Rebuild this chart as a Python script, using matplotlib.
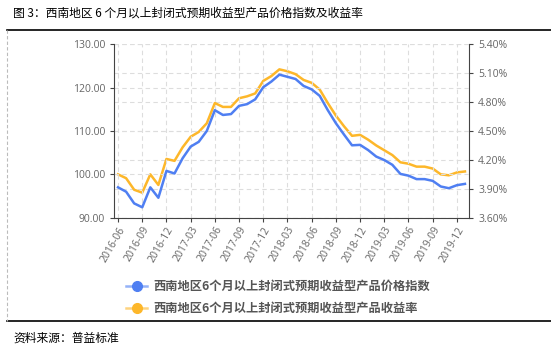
import matplotlib
matplotlib.use("Agg")
import matplotlib.pyplot as plt
from matplotlib.lines import Line2D
import numpy as np

plt.rcParams['font.family'] = ['Noto Sans CJK SC', 'DejaVu Sans']

months = ["2016-06", "2016-07", "2016-08", "2016-09", "2016-10", "2016-11", "2016-12",
          "2017-01", "2017-02", "2017-03", "2017-04", "2017-05", "2017-06", "2017-07",
          "2017-08", "2017-09", "2017-10", "2017-11", "2017-12", "2018-01", "2018-02",
          "2018-03", "2018-04", "2018-05", "2018-06", "2018-07", "2018-08", "2018-09",
          "2018-10", "2018-11", "2018-12", "2019-01", "2019-02", "2019-03", "2019-04",
          "2019-05", "2019-06", "2019-07", "2019-08", "2019-09", "2019-10", "2019-11",
          "2019-12", "2020-01"]

price_index = [97.0, 96.0, 93.3, 92.4, 97.0, 94.6, 100.8, 100.2, 103.7, 106.4, 107.5, 110.0,
               114.8, 113.7, 113.9, 115.8, 116.2, 117.3, 120.1, 121.4, 123.0, 122.5, 122.0,
               120.4, 119.6, 118.1, 114.8, 111.8, 109.2, 106.7, 106.8, 105.6, 104.1, 103.3,
               102.2, 100.1, 99.7, 98.9, 98.9, 98.5, 97.2, 96.8, 97.5, 97.8]

yield_rate = [4.05, 4.01, 3.89, 3.86, 4.05, 3.94, 4.21, 4.19, 4.33, 4.44, 4.49, 4.58,
              4.79, 4.75, 4.75, 4.84, 4.86, 4.89, 5.02, 5.07, 5.14, 5.12, 5.09,
              5.03, 5.00, 4.93, 4.79, 4.66, 4.55, 4.45, 4.46, 4.41, 4.35, 4.30,
              4.25, 4.175, 4.16, 4.13, 4.13, 4.11, 4.05, 4.04, 4.07, 4.08]

left_ticks = [90, 100, 110, 120, 130]
right_ticks = [3.60, 3.90, 4.20, 4.50, 4.80, 5.10, 5.40]

title = "图 3：西南地区 6 个月以上封闭式预期收益型产品价格指数及收益率"
source = "资料来源：普益标准"
name1 = "西南地区6个月以上封闭式预期收益型产品价格指数"
name2 = "西南地区6个月以上封闭式预期收益型产品收益率"

blue = "#4f7ff2"
orange = "#fdb72a"
grid_c = "#dddddd"
axis_c = "#444444"
tick_c = "#666666"

W, H = 551, 352
fig = plt.figure(figsize=(W / 100, H / 100), dpi=100)

L, R, T, B = 114, 469, 44.3, 217.7
ax = fig.add_axes([L / W, 1 - B / H, (R - L) / W, (B - T) / H])
ax2 = ax.twinx()

x = np.arange(len(months))
ax.set_xlim(-0.5, len(months) - 0.5)
ax.set_ylim(90, 130)
ax2.set_ylim(3.60, 5.40)

# grids
for v in left_ticks:
    ax.axhline(v, color=grid_c, lw=0.8, ls=(0, (4, 3)), zorder=0)
for v in right_ticks:
    ax2.axhline(v, color=grid_c, lw=0.8, ls=(0, (4, 3)), zorder=0)
xt = x[::3]
for v in xt:
    ax.axvline(v, color=grid_c, lw=0.8, ls=(0, (4, 3)), zorder=0)

ax.plot(x, price_index, color=blue, lw=1.8, zorder=3)
ax2.plot(x, yield_rate, color=orange, lw=1.8, zorder=3)
ax.set_zorder(ax2.get_zorder() + 1)
ax.patch.set_visible(False)

ax.set_yticks(left_ticks)
ax.set_yticklabels([f"{v:.2f}" for v in left_ticks])
ax2.set_yticks(right_ticks)
ax2.set_yticklabels([f"{v:.2f}%" for v in right_ticks])
ax.set_xticks(xt)
ax.set_xticklabels([months[i] for i in xt], rotation=60, ha='right', va='top',
                   rotation_mode='anchor')

for a in (ax, ax2):
    for s in a.spines.values():
        s.set_visible(False)
    a.tick_params(colors=tick_c, labelsize=7.5, length=3, width=0.8)
    for lab in a.get_xticklabels() + a.get_yticklabels():
        lab.set_family(['Open Sans', 'DejaVu Sans'])
ax.spines['left'].set_visible(True)
ax.spines['left'].set_color(axis_c)
ax.spines['bottom'].set_visible(True)
ax.spines['bottom'].set_color(axis_c)
ax2.spines['right'].set_visible(True)
ax2.spines['right'].set_color(axis_c)
ax.tick_params(axis='both', color=axis_c)
ax2.tick_params(axis='y', color=axis_c)
ax.tick_params(axis='x', pad=2)

# frame lines
fig.add_artist(Line2D([7 / W, 1], [1 - 29.5 / H] * 2, color='black', lw=1.2))
fig.add_artist(Line2D([7 / W, 1], [1 - 321 / H] * 2, color='black', lw=1.2))
fig.add_artist(Line2D([6.5 / W] * 2, [1 - 29.5 / H, 1 - 321 / H], color='#bbbbbb', lw=0.8,
                      ls=(0, (3, 2))))

fig.text(13 / W, 1 - 13 / H, title, fontsize=8.5, va='center', ha='left', color='black')
fig.text(13 / W, 1 - 338 / H, source, fontsize=8.5, va='center', ha='left', color='black')

# legend
for yy, col, name in ((286, blue, name1), (308, orange, name2)):
    fig.add_artist(Line2D([126 / W, 147 / W], [1 - yy / H] * 2, color=col, lw=1.8, alpha=0.6))
    fig.add_artist(Line2D([136.5 / W], [1 - yy / H], marker='o', markersize=7, color=col,
                          lw=0))
    fig.text(153 / W, 1 - yy / H, name, fontsize=8.8, va='center', ha='left', color='#555555',
             fontweight='bold')

fig.savefig("out.png", dpi=100)
